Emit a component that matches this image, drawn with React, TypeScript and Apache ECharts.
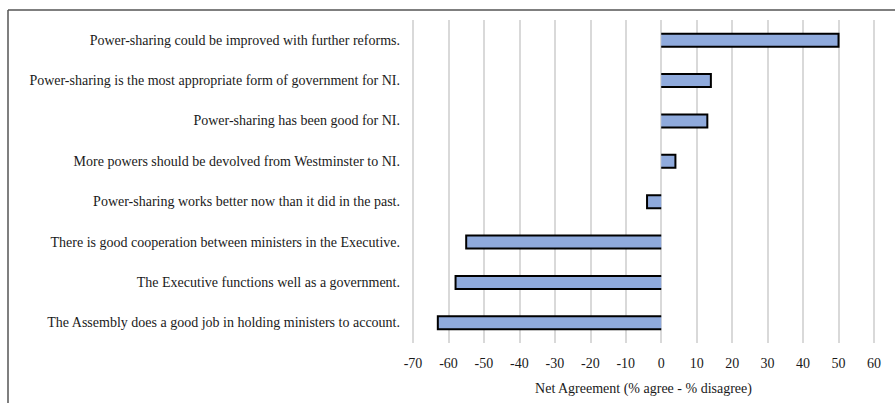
import React, { useEffect, useRef } from "react";
import * as echarts from "echarts";

const categories: string[] = [
  "Power-sharing could be improved with further reforms.",
  "Power-sharing is the most appropriate form of government for NI.",
  "Power-sharing has been good for NI.",
  "More powers should be devolved from Westminster to NI.",
  "Power-sharing works better now than it did in the past.",
  "There is good cooperation between ministers in the Executive.",
  "The Executive functions well as a government.",
  "The Assembly does a good job in holding ministers to account.",
];

const netAgreement: number[] = [50, 14, 13, 4, -4, -55, -58, -63];

const xMin = -70;
const xMax = 60;
const xStep = 10;
const axisTitle = "Net Agreement (% agree - % disagree)";

const FONT = "Liberation Serif";

export default function App() {
  const ref = useRef<HTMLDivElement>(null);

  useEffect(() => {
    if (!ref.current) return;
    const chart = echarts.init(ref.current, null, { renderer: "svg" });
    const barH = 13;
    chart.setOption({
      animation: false,
      backgroundColor: "#ffffff",
      textStyle: { fontFamily: FONT },
      grid: { left: 413, right: 21, top: 20, bottom: 60 },
      xAxis: {
        type: "value",
        min: xMin,
        max: xMax,
        interval: xStep,
        axisLine: { show: false },
        axisTick: { show: false },
        splitLine: { show: true, lineStyle: { color: "#d9d9d9", width: 2 } },
        axisLabel: { fontFamily: FONT, fontSize: 14, color: "#1a1a1a", margin: 13 },
        name: axisTitle,
        nameLocation: "middle",
        nameGap: 38,
        nameTextStyle: { fontFamily: FONT, fontSize: 14, color: "#1a1a1a" },
      },
      yAxis: {
        type: "category",
        data: categories,
        inverse: true,
        axisLine: { show: false },
        axisTick: { show: false },
        splitLine: { show: false },
        axisLabel: { fontFamily: FONT, fontSize: 14, color: "#1a1a1a", margin: 13 },
      },
      graphic: [
        {
          type: "line",
          shape: { x1: 8, y1: 10, x2: 895, y2: 10 },
          style: { stroke: "#555", lineWidth: 1.5 },
          silent: true,
        },
        {
          type: "line",
          shape: { x1: 8, y1: 10, x2: 8, y2: 403 },
          style: { stroke: "#555", lineWidth: 1.5 },
          silent: true,
        },
      ],
      series: [
        {
          type: "custom",
          encode: { x: 0, y: 1 },
          data: netAgreement.map((v, i) => [v, i]),
          renderItem: (params: any, api: any) => {
            const v = api.value(0);
            const c = api.value(1);
            const p0 = api.coord([0, c]);
            const p1 = api.coord([v, c]);
            const y = p0[1];
            const x0 = p0[0];
            const x1 = p1[0];
            const left = Math.min(x0, x1);
            const w = Math.abs(x1 - x0);
            const top = y - barH / 2;
            const bot = y + barH / 2;
            return {
              type: "group",
              children: [
                {
                  type: "rect",
                  shape: { x: left, y: top, width: w, height: barH },
                  style: { fill: "#8faadc" },
                },
                {
                  type: "polyline",
                  shape: {
                    points: [
                      [x0, top],
                      [x1, top],
                      [x1, bot],
                      [x0, bot],
                    ],
                  },
                  style: { stroke: "#000", lineWidth: 2, fill: "none" },
                },
              ],
            };
          },
        },
      ],
    });
    return () => chart.dispose();
  }, []);

  return (
    <div
      ref={ref}
      style={{ position: "fixed", left: 0, top: 0, width: 895, height: 403 }}
    />
  );
}
